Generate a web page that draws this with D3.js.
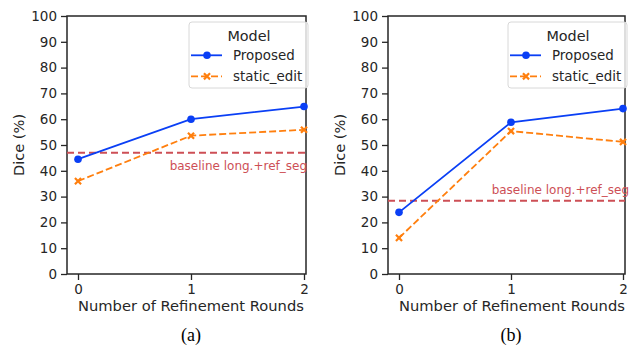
<!DOCTYPE html>
<html>
<head>
<meta charset="utf-8">
<script src="https://cdn.jsdelivr.net/npm/d3@7"></script>
<style>
  body { margin: 0; background: #fff; }
  svg { display: block; font-family: "DejaVu Sans", sans-serif; }
</style>
</head>
<body>
<svg id="chart" width="636" height="345"></svg>
<script>
// data
const rounds = [0, 1, 2];
const yTicks = [0, 10, 20, 30, 40, 50, 60, 70, 80, 90, 100];
const seriesNames = ["Proposed", "static_edit"];
const proposedA = [44.5, 60.0, 64.9];
const staticA = [36.0, 53.6, 55.9];
const baselineA = 47.0;
const proposedB = [23.9, 58.8, 64.1];
const staticB = [14.0, 55.4, 51.2];
const baselineB = 28.4;
const baselineLabel = "baseline long.+ref_seg";
const captions = ["(a)", "(b)"];

const colors = {Proposed: "#0a3ff5", static_edit: "#ff7f0e"};
const baseColor = "#cd4f56";
const ink = "#262626";

const svg = d3.select("#chart");

const panels = [
  {left: 67, right: 306, proposed: proposedA, stat: staticA, base: baselineA, cap: captions[0], labelDy: 17.5, labelDx: 1},
  {left: 388, right: 625, proposed: proposedB, stat: staticB, base: baselineB, cap: captions[1], labelDy: -6.5, labelDx: 4}
];
const plotTop = 16, plotBottom = 274;

function drawPanel(p) {
  const g = svg.append("g");
  const x = d3.scaleLinear().domain([0, 2]).range([p.left + 11, p.right - 2]);
  const y = d3.scaleLinear().domain([0, 100]).range([plotBottom, plotTop]);

  // axes
  const ya = g.append("g").attr("transform", `translate(${p.left},0)`)
    .call(d3.axisLeft(y).tickValues(yTicks).tickSize(6).tickPadding(4));
  const xa = g.append("g").attr("transform", `translate(0,${plotBottom})`)
    .call(d3.axisBottom(x).tickValues(rounds).tickFormat(d3.format("d")).tickSize(6).tickPadding(4));
  [ya, xa].forEach(a => {
    a.selectAll("text").attr("font-size", 13.5).attr("fill", ink).attr("font-family", "DejaVu Sans");
    a.selectAll("line").attr("stroke", ink).attr("stroke-width", 1.3);
    a.select(".domain").remove();
  });
  g.append("rect").attr("x", p.left).attr("y", plotTop)
    .attr("width", p.right - p.left).attr("height", plotBottom - plotTop)
    .attr("fill", "none").attr("stroke", ink).attr("stroke-width", 1.5);

  // baseline
  g.append("line").attr("x1", p.left).attr("x2", p.right)
    .attr("y1", y(p.base)).attr("y2", y(p.base))
    .attr("stroke", baseColor).attr("stroke-width", 1.8).attr("stroke-dasharray", "7,4");
  g.append("text").attr("x", p.right + p.labelDx).attr("y", y(p.base) + p.labelDy)
    .attr("text-anchor", "end").attr("font-size", 12).attr("fill", baseColor)
    .text(baselineLabel);

  const line = d3.line().x((d, i) => x(rounds[i])).y(d => y(d));
  // proposed
  g.append("path").datum(p.proposed).attr("d", line).attr("fill", "none")
    .attr("stroke", colors.Proposed).attr("stroke-width", 1.8);
  g.selectAll(".dot").data(p.proposed).join("circle")
    .attr("cx", (d, i) => x(rounds[i])).attr("cy", d => y(d)).attr("r", 3.8)
    .attr("fill", colors.Proposed);
  // static_edit
  g.append("path").datum(p.stat).attr("d", line).attr("fill", "none")
    .attr("stroke", colors.static_edit).attr("stroke-width", 1.8).attr("stroke-dasharray", "7,3");
  const cross = d3.symbol().type(d3.symbolX).size(26);
  g.selectAll(".xm").data(p.stat).join("path")
    .attr("transform", (d, i) => `translate(${x(rounds[i])},${y(d)})`)
    .attr("d", cross).attr("stroke", colors.static_edit).attr("stroke-width", 2.2).attr("fill", "none");

  // legend
  const lw = 119, lx = p.right + 2 - lw, ly = plotTop + 6;
  const lg = g.append("g").attr("transform", `translate(${lx},${ly})`);
  lg.append("rect").attr("width", lw).attr("height", 66).attr("rx", 3)
    .attr("fill", "#fff").attr("fill-opacity", 0.8).attr("stroke", "#d8d8d8");
  lg.append("text").attr("x", 60).attr("y", 18.7).attr("text-anchor", "middle")
    .attr("font-size", 14.4).attr("fill", ink).text("Model");
  seriesNames.forEach((name, i) => {
    const yy = 33.3 + i * 21;
    lg.append("line").attr("x1", 2).attr("x2", 33).attr("y1", yy).attr("y2", yy)
      .attr("stroke", colors[name]).attr("stroke-width", 1.8)
      .attr("stroke-dasharray", i ? "7,3" : null);
    if (i === 0) {
      lg.append("circle").attr("cx", 18).attr("cy", yy).attr("r", 3.8).attr("fill", colors[name]);
    } else {
      lg.append("path").attr("transform", `translate(18,${yy})`).attr("d", cross)
        .attr("stroke", colors[name]).attr("stroke-width", 2.2).attr("fill", "none");
    }
    lg.append("text").attr("x", 44).attr("y", yy + 5).attr("font-size", 13.4)
      .attr("fill", ink).text(name);
  });

  // titles
  g.append("text").attr("x", 78 - 67 + p.left).attr("y", 311)
    .attr("font-size", 14.7).attr("fill", ink)
    .text("Number of Refinement Rounds");
  g.append("text").attr("transform", `translate(${p.left - 43.5},${(plotTop + plotBottom) / 2}) rotate(-90)`)
    .attr("text-anchor", "middle").attr("font-size", 14.6).attr("fill", ink)
    .text("Dice (%)");
  g.append("text").attr("x", x(1)).attr("y", 341).attr("text-anchor", "middle")
    .attr("font-family", "Liberation Serif, serif").attr("font-size", 18).attr("fill", "#000")
    .text(p.cap);
}

panels.forEach(drawPanel);
</script>
</body>
</html>
